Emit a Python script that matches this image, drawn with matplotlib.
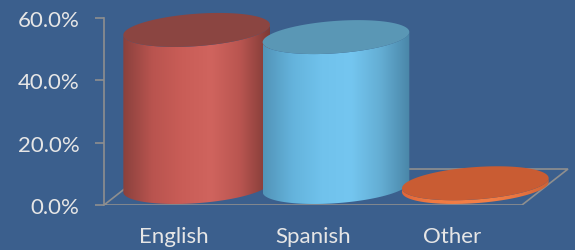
import numpy as np
import matplotlib
matplotlib.use("Agg")
import matplotlib.pyplot as plt
from matplotlib.patches import Polygon
from matplotlib.colors import LinearSegmentedColormap
from matplotlib.ticker import PercentFormatter

categories = ["English", "Spanish", "Other"]
values = [50.4, 48.1, 1.2]
yticks = [0, 20, 40, 60]

side_colors = [
    ["#8a413d", "#b9544f", "#c95d57", "#d0645e", "#b95550", "#7e3a36"],
    ["#5294b8", "#64b3dc", "#70c2ec", "#74c6f0", "#64aed4", "#4a86a8"],
    ["#e0663a", "#f07a42", "#f27e46", "#f27e46", "#e87440", "#d06234"],
]
top_colors = ["#8b4541", "#5a97b5", "#c95c33"]

bg = "#3b5f8d"
grid_col = "#8f8f8f"
txt_col = "#e6e6e6"

plt.rcParams['font.family'] = ['Lato', 'DejaVu Sans']

fig = plt.figure(figsize=(5.75, 2.51), dpi=100, facecolor=bg)
# axes: left edge at the value axis, bottom at the front floor edge
ax = fig.add_axes([104 / 575, 45 / 251, 471 / 575, 206 / 251])
ax.set_facecolor(bg)
ax.set_xlim(0, 471 / 418 * 3)
ax.set_ylim(0, 206 / 187 * 60)

# depth of the floor (data units) and cylinder shape
depth_x, depth_y = 0.33, 11.55
rx, hx, hy = 0.502, 0.158, 5.45
n = len(categories)

# floor
fx = [0, n, n + depth_x, depth_x, 0]
fy = [0, 0, depth_y, depth_y, 0]
ax.plot(fx, fy, color=grid_col, lw=1.2, zorder=1, solid_joinstyle="miter")

a = np.arctan2(hx, rx)
for i, (cat, v) in enumerate(zip(categories, values)):
    cx = i + 0.5 + depth_x / 2
    cy = depth_y / 2
    t_front = np.linspace(np.pi + a, 2 * np.pi + a, 80)
    bx = cx + rx * np.cos(t_front) + hx * np.sin(t_front)
    by = cy + hy * np.sin(t_front)
    side = np.vstack([np.column_stack([bx, by]),
                      np.column_stack([bx[::-1], by[::-1] + v])])
    patch = Polygon(side, closed=True, facecolor="none", edgecolor="none",
                    zorder=2 + i * 3)
    ax.add_patch(patch)
    cmap = LinearSegmentedColormap.from_list("c%d" % i, side_colors[i])
    grad = np.linspace(0, 1, 256).reshape(1, -1)
    im = ax.imshow(grad, cmap=cmap, aspect="auto", interpolation="bilinear",
                   extent=[bx.min(), bx.max(), 0, cy + v + hy + 1],
                   zorder=2 + i * 3)
    im.set_clip_path(patch)
    t_all = np.linspace(0, 2 * np.pi, 160)
    tx = cx + rx * np.cos(t_all) + hx * np.sin(t_all)
    ty = cy + v + hy * np.sin(t_all)
    ax.add_patch(Polygon(np.column_stack([tx, ty]), closed=True,
                         facecolor=top_colors[i], edgecolor="none",
                         zorder=3 + i * 3))

# value axis
for s in ["top", "right", "bottom"]:
    ax.spines[s].set_visible(False)
ax.spines["left"].set_bounds(0, 60)
ax.spines["left"].set_color(grid_col)
ax.spines["left"].set_linewidth(1.2)
ax.set_yticks(yticks)
ax.yaxis.set_major_formatter(PercentFormatter(decimals=1))
ax.tick_params(axis="y", length=6.5, width=1.2, color=grid_col,
               labelcolor=txt_col, labelsize=16, pad=11)

ax.set_xticks([i + 0.5 for i in range(n)])
ax.set_xticklabels(categories)
ax.tick_params(axis="x", length=0, labelcolor=txt_col, labelsize=16, pad=15)

fig.savefig("out.png", dpi=100, facecolor=bg)
